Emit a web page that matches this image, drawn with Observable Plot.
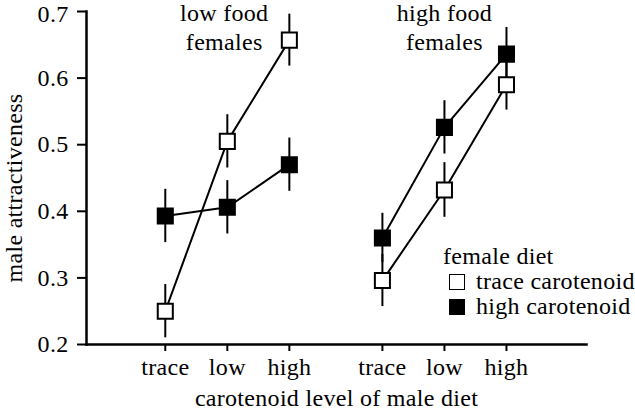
<!DOCTYPE html>
<html>
<head>
<meta charset="utf-8">
<script src="https://cdn.jsdelivr.net/npm/d3@7"></script>
<script src="https://cdn.jsdelivr.net/npm/@observablehq/plot@0.6"></script>
<style>
  html, body { margin: 0; padding: 0; background: white; }
  #wrap { position: relative; width: 635px; height: 409px; font-family: "Liberation Serif", "Times New Roman", serif; color: black; }
  #wrap svg, #wrap svg text { font-family: "Liberation Serif", "Times New Roman", serif !important; }
  #legend { position: absolute; left: 443px; top: 244px; font-size: 24px; line-height: 25px; letter-spacing: 0.3px; }
  #legend .row { display: flex; align-items: center; white-space: nowrap; }
  #legend .sw { display: inline-block; width: 14px; height: 14px; border: 1.5px solid black; margin: 0 11px 0 6px; box-sizing: content-box; }
  #ytitle { position: absolute; left: 13.5px; top: 188px; font-size: 24px; line-height: 1; letter-spacing: 0.3px; white-space: nowrap;
            transform: translate(-50%, -50%) rotate(-90deg); }
</style>
</head>
<body>
<div id="wrap"></div>
<script>
// --- data ---
const levels = ["trace", "low", "high"];               // male diet carotenoid level
const groups = ["low food\nfemales", "high food\nfemales"];
const seriesNames = ["trace carotenoid", "high carotenoid"]; // female diet
const traceMeans = [0.250, 0.505, 0.657, 0.296, 0.432, 0.590];
const traceErr   = [0.040, 0.040, 0.039, 0.039, 0.041, 0.038];
const highMeans  = [0.393, 0.406, 0.470, 0.360, 0.526, 0.636];
const highErr    = [0.040, 0.040, 0.040, 0.037, 0.040, 0.040];
const yTicks = [0.2, 0.3, 0.4, 0.5, 0.6, 0.7];
const legendTitle = "female diet";
const xTitle = "carotenoid level of male diet";
const yTitle = "male attractiveness";

// --- build table ---
const pos = (gi, li) => gi * 3.5 + li + 1;
const rows = [];
groups.forEach((g, gi) => levels.forEach((l, li) => {
  const k = gi * 3 + li;
  rows.push({group: g, level: l, x: pos(gi, li), series: seriesNames[0], mean: traceMeans[k], err: traceErr[k]});
  rows.push({group: g, level: l, x: pos(gi, li), series: seriesNames[1], mean: highMeans[k], err: highErr[k]});
}));
const xTicks = [];
const levelAt = new Map();
groups.forEach((g, gi) => levels.forEach((l, li) => { xTicks.push(pos(gi, li)); levelAt.set(pos(gi, li), l); }));
const groupLabels = groups.map((g, gi) => ({text: g, x: pos(gi, 1) - (gi === 0 ? 0.05 : 0)}));
const fmt = d3.format(".1f");

const chart = Plot.plot({
  width: 635,
  height: 409,
  marginLeft: 86,
  marginRight: 49,
  marginTop: 11,
  marginBottom: 65,
  style: {fontFamily: "'Liberation Serif', 'Times New Roman', serif", fontSize: "24px", color: "black", background: "white", letterSpacing: "0.3px"},
  x: {domain: [-0.27, 7.79], axis: null},
  y: {domain: [0.2, 0.7], axis: null},
  marks: [
    Plot.axisY({ticks: yTicks, tickFormat: () => "", tickSize: 9, tickPadding: 9, label: null, strokeWidth: 2}),
    Plot.axisY({ticks: yTicks.slice(0, -1), tickFormat: fmt, tickSize: 0, tickPadding: 18, label: null}),
    Plot.axisY({ticks: yTicks.slice(-1), tickFormat: fmt, tickSize: 0, tickPadding: 18, label: null, dy: 3}),
    Plot.axisX({ticks: xTicks, tickFormat: d => levelAt.get(d), tickSize: 7, tickPadding: 6, label: null, strokeWidth: 2}),
    Plot.frame({anchor: "left", strokeWidth: 2.5}),
    Plot.frame({anchor: "bottom", strokeWidth: 2.5}),
    Plot.line(rows, {x: "x", y: "mean", z: d => d.series + "|" + d.group, stroke: "black", strokeWidth: 2}),
    Plot.ruleX(rows, {x: "x", y1: d => d.mean - d.err, y2: d => d.mean + d.err, stroke: "black", strokeWidth: 2}),
    Plot.dot(rows, {x: "x", y: "mean", symbol: "square", r: 8.5, stroke: "black", strokeWidth: 2,
      fill: d => d.series === seriesNames[0] ? "white" : "black"}),
    Plot.text(groupLabels, {x: "x", text: "text", frameAnchor: "top", lineAnchor: "top", lineHeight: 1.2, dy: -11}),
    Plot.text([xTitle], {text: d => d, frameAnchor: "bottom", lineAnchor: "bottom", dy: 61})
  ]
});

const wrap = document.getElementById("wrap");
wrap.appendChild(chart);
const ytitle = document.createElement("div");
ytitle.id = "ytitle";
ytitle.textContent = yTitle;
wrap.appendChild(ytitle);
const legend = document.createElement("div");
legend.id = "legend";
legend.innerHTML = `<div class="row">${legendTitle}</div>` +
  seriesNames.map((s, i) => `<div class="row"><span class="sw" style="background:${i === 0 ? "white" : "black"}"></span>${s}</div>`).join("");
wrap.appendChild(legend);
</script>
</body>
</html>
